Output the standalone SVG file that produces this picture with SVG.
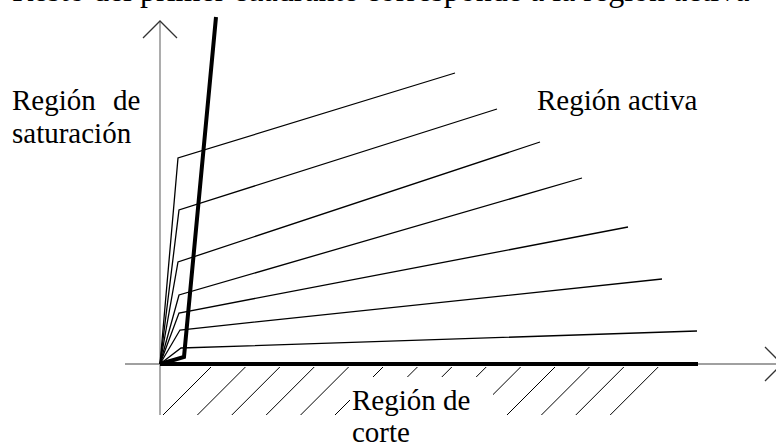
<svg xmlns="http://www.w3.org/2000/svg" width="776" height="448" viewBox="0 0 776 448">
<style>
.t{font-family:"Liberation Serif","Times New Roman",serif;font-size:29px;fill:#000}
.top{font-size:32px}
.axis{stroke:#808080;stroke-width:1.3;fill:none}
.arr{stroke:#333;stroke-width:1.3;fill:none}
.curve{stroke:#000;stroke-width:1.3;fill:none;stroke-linejoin:miter}
.thick{stroke:#000;stroke-width:4;fill:none;stroke-linejoin:miter}
.hatch{stroke:#000;stroke-width:1;fill:none}
</style>
<rect width="776" height="448" fill="#fff"/>
<text class="t top" x="12" y="0.6">Resto del primer cuadrante corresponde a la región activa</text>
<g id="hatching">
<path class="hatch" d="M163,415L211,367M197.4,415L245.4,367M231.8,415L279.8,367M266.2,415L314.2,367M300.6,415L348.6,367M335,415L383,367M369.4,415L417.4,367M403.8,415L451.8,367M438.2,415L486.2,367M472.6,415L520.6,367M507,415L555,367M541.4,415L589.4,367M575.8,415L623.8,367M610.2,415L658.2,367"/>
<rect x="350" y="377" width="143" height="71" fill="#fff"/>
</g>
<g id="axes">
<line class="axis" x1="125" y1="364" x2="782" y2="364"/>
<line class="axis" x1="160" y1="21" x2="160" y2="415"/>
<polyline class="arr" points="143,38 160,21 177,38"/>
<polyline class="arr" points="765,347 782,364 765,381"/>
</g>
<g id="curves">
<polyline class="curve" points="160,364 178,158 455,73"/>
<polyline class="curve" points="160,364 179,210 497,109"/>
<polyline class="curve" points="160,364 178,262 540,142"/>
<polyline class="curve" points="160,364 179,295 582,178"/>
<polyline class="curve" points="160,364 179,313 628,227"/>
<polyline class="curve" points="160,364 180,330 662,279"/>
<polyline class="curve" points="160,364 181,348 697,331"/>
</g>
<g id="boundaries">
<polyline class="thick" points="216,17 184,357 160,364"/>
<line class="thick" x1="160" y1="364" x2="698" y2="364"/>
</g>
<g id="labels">
<text class="t" x="12" y="110" word-spacing="10">Región de</text>
<text class="t" x="12" y="143">saturación</text>
<text class="t" x="537" y="110">Región activa</text>
<text class="t" x="352" y="410">Región de</text>
<text class="t" x="352" y="442">corte</text>
</g>
</svg>
